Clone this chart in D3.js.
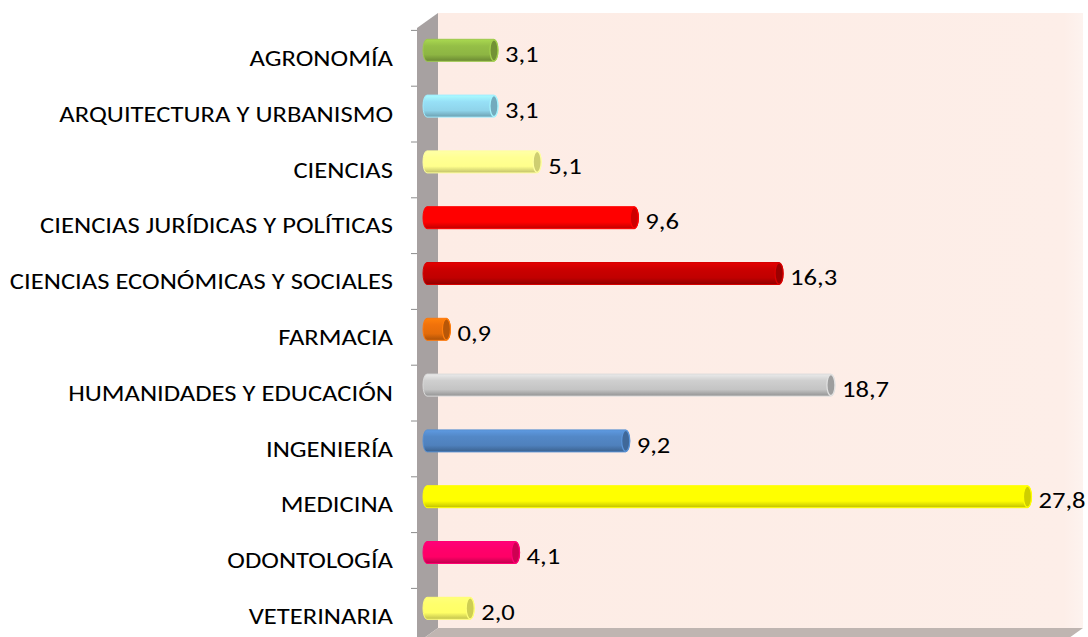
<!DOCTYPE html>
<html lang="es">
<head>
<meta charset="UTF-8">
<script src="https://d3js.org/d3.v7.min.js"></script>
<title>Cylinder bars</title>
<style>
  body { margin: 0; background: #fff; }
  text { font-family: Carlito, "Open Sans", sans-serif; fill: #000; }
</style>
</head>
<body>
<script>
var categories = ["AGRONOMÍA", "ARQUITECTURA Y URBANISMO", "CIENCIAS", "CIENCIAS JURÍDICAS Y POLÍTICAS",
  "CIENCIAS ECONÓMICAS Y SOCIALES", "FARMACIA", "HUMANIDADES Y EDUCACIÓN", "INGENIERÍA",
  "MEDICINA", "ODONTOLOGÍA", "VETERINARIA"];
var values = [3.1, 3.1, 5.1, 9.6, 16.3, 0.9, 18.7, 9.2, 27.8, 4.1, 2.0];
var colors = ["#8db543", "#8fd4ea", "#ffff8c", "#ff0000", "#c00000", "#e46c0a",
  "#c4c4c4", "#4f81bd", "#ffff00", "#ff0066", "#ffff66"];

var W = 1088, H = 637;
var svg = d3.select("body").append("svg").attr("width", W).attr("height", H);
var defs = svg.append("defs");

// 3d box: front face / back face offset
var dx = 21, dy = -15;
var front = {x: 417, top: 28, bottom: 643};
var stretch = 1.21; // the source picture is wider than tall, text too

var y = d3.scaleBand().domain(categories).range([30.4, 30.4 + 55.8 * categories.length]);
var x = d3.scaleLinear().domain([0, 30]).range([427, 1075]);
var fmt = d3.formatLocale({decimal: ",", thousands: ".", grouping: [3], currency: ["", ""]}).format(".1f");

// walls
var wallGrad = defs.append("linearGradient").attr("id", "wall").attr("x1", 0).attr("x2", 1).attr("y1", 0).attr("y2", 0);
wallGrad.append("stop").attr("offset", "0%").attr("stop-color", "#fdece5");
wallGrad.append("stop").attr("offset", "97%").attr("stop-color", "#fdeee8");
wallGrad.append("stop").attr("offset", "100%").attr("stop-color", "#fdf3ef");

svg.append("rect")
  .attr("x", front.x + dx).attr("y", front.top + dy)
  .attr("width", 1083 - front.x - dx).attr("height", front.bottom - front.top)
  .attr("fill", "url(#wall)");

svg.append("path")
  .attr("d", "M" + front.x + "," + front.top + "L" + (front.x + dx) + "," + (front.top + dy) +
    "L" + (front.x + dx) + "," + (front.bottom + dy) + "L" + front.x + "," + front.bottom + "Z")
  .attr("fill", "#a7a1a1");

svg.append("path")
  .attr("d", "M" + front.x + "," + front.bottom + "L" + (front.x + dx) + "," + (front.bottom + dy) +
    "L1083," + (front.bottom + dy) + "L" + (1083 - dx) + "," + front.bottom + "Z")
  .attr("fill", "#bfb5b1");

// tick marks at band edges
svg.append("g").selectAll("line")
  .data(d3.range(categories.length + 1))
  .join("line")
  .attr("x1", front.x - 6).attr("x2", front.x)
  .attr("y1", function(i) { return y.range()[0] + i * y.step(); })
  .attr("y2", function(i) { return y.range()[0] + i * y.step(); })
  .attr("stroke", "#8c8c8c").attr("stroke-width", 1);

// category labels
svg.append("g").selectAll("text")
  .data(categories)
  .join("text")
  .attr("transform", function(d) {
    return "translate(" + (front.x - 24) + "," + (y(d) + y.bandwidth() / 2) + ") scale(" + stretch + ",1)";
  })
  .attr("text-anchor", "end")
  .attr("dy", "0.35em")
  .attr("font-size", 22)
  .text(function(d) { return d; });

// cylinder gradients
colors.forEach(function(c, i) {
  var g = defs.append("linearGradient").attr("id", "cyl" + i)
    .attr("x1", 0).attr("x2", 0).attr("y1", 0).attr("y2", 1);
  g.append("stop").attr("offset", "0%").attr("stop-color", d3.color(c).brighter(0.5));
  g.append("stop").attr("offset", "30%").attr("stop-color", d3.color(c).brighter(0.15));
  g.append("stop").attr("offset", "70%").attr("stop-color", c);
  g.append("stop").attr("offset", "100%").attr("stop-color", d3.color(c).darker(0.8));
});

var bh = 22, rx = 4, off = -8;
var bars = svg.append("g").selectAll("g")
  .data(values)
  .join("g")
  .attr("transform", function(d, i) { return "translate(0," + (y(categories[i]) + y.bandwidth() / 2 + off) + ")"; });

// body
bars.append("path")
  .attr("d", function(d) {
    var x0 = x(0), x1 = x(d);
    return "M" + x0 + "," + (-bh / 2) + "L" + x1 + "," + (-bh / 2) +
      "A" + rx + "," + (bh / 2) + " 0 0 1 " + x1 + "," + (bh / 2) +
      "L" + x0 + "," + (bh / 2) +
      "A" + rx + "," + (bh / 2) + " 0 0 1 " + x0 + "," + (-bh / 2) + "Z";
  })
  .attr("fill", function(d, i) { return "url(#cyl" + i + ")"; })
  .attr("stroke", function(d, i) { return d3.color(colors[i]).brighter(0.3); })
  .attr("stroke-width", 1);

// end cap
bars.append("ellipse")
  .attr("cx", function(d) { return x(d); })
  .attr("cy", 0)
  .attr("rx", rx).attr("ry", bh / 2 - 0.5)
  .attr("fill", function(d, i) { return d3.color(colors[i]).darker(0.6); })
  .attr("stroke", function(d, i) { return d3.color(colors[i]).brighter(0.4); })
  .attr("stroke-width", 1.2);

// value labels
bars.append("text")
  .attr("transform", function(d) { return "translate(" + (x(d) + rx + 7) + ",4) scale(" + stretch + ",1)"; })
  .attr("dy", "0.35em")
  .attr("font-size", 22)
  .text(function(d) { return fmt(d); });
</script>
</body>
</html>
